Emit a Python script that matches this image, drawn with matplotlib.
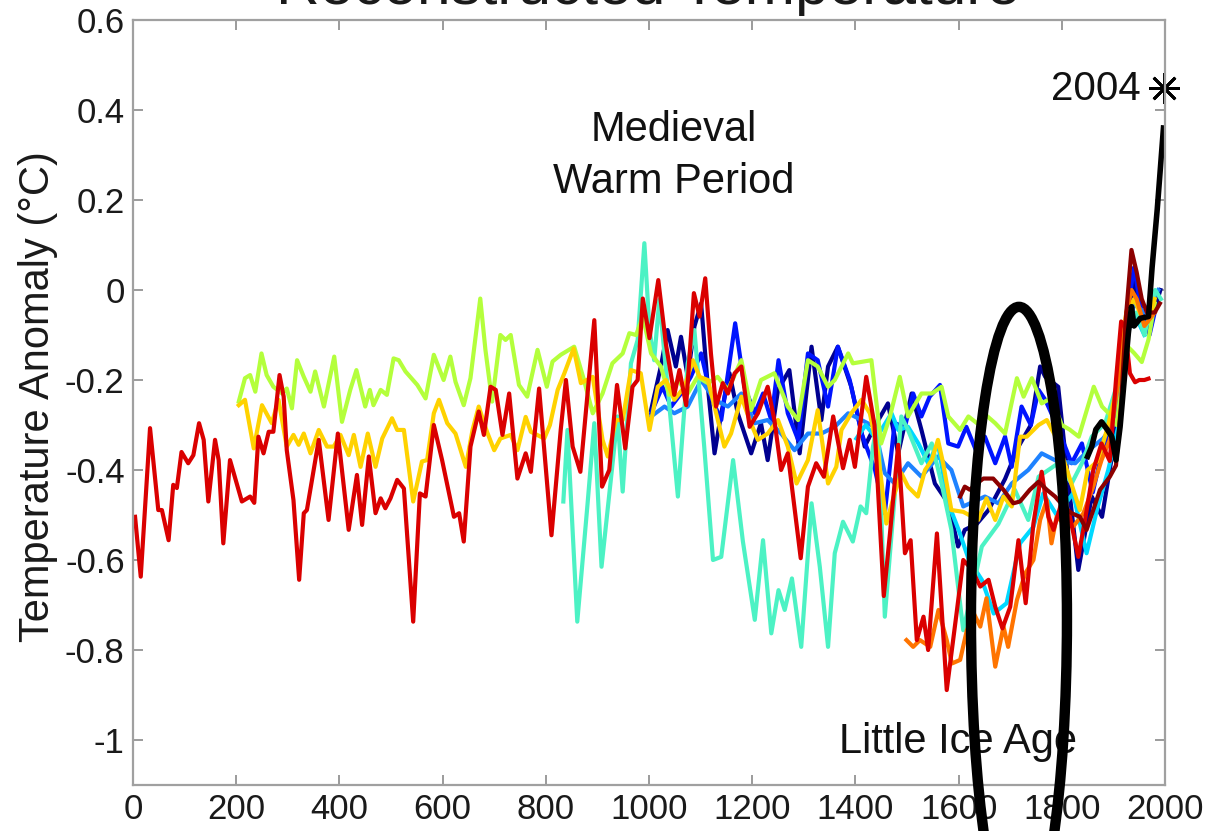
import matplotlib
matplotlib.use("Agg")
import matplotlib.pyplot as plt
from matplotlib.patches import Ellipse

plt.rcParams['font.family'] = ['Liberation Sans', 'DejaVu Sans']
plt.rcParams['axes.unicode_minus'] = False

# --- reconstructions (year, anomaly in deg C) ---
moberg_yr = [4, 15, 33, 49, 56, 69, 78, 85, 94, 107, 117, 128, 137, 146, 159, 166, 175, 188, 201, 211,
             227, 235, 243, 253, 263, 272, 284, 292, 298, 311, 322, 331, 337, 360, 379, 397, 418, 434, 444, 457,
             470, 480, 489, 499, 512, 525, 543, 556, 567, 583, 599, 622, 632, 641, 654, 670, 680, 693, 703, 716,
             729, 745, 761, 771, 787, 811, 829, 839, 852, 867, 881, 894, 909, 923, 938, 954, 968, 978, 988, 1001,
             1018, 1033, 1049, 1059, 1072, 1087, 1098, 1109, 1120, 1130, 1143, 1153, 1166, 1179, 1195, 1211, 1230, 1243, 1256, 1269,
             1294, 1308, 1324, 1339, 1357, 1376, 1389, 1399, 1421, 1437, 1455, 1467, 1483, 1496, 1507, 1519, 1532, 1541, 1558, 1577,
             1596, 1609, 1625, 1642, 1658, 1671, 1685, 1700, 1716, 1730, 1745, 1761, 1774, 1784, 1800, 1815, 1832, 1845, 1861, 1877,
             1893, 1905, 1915, 1922, 1932, 1942, 1950, 1960, 1968]
moberg_t = [-0.504, -0.637, -0.307, -0.489, -0.489, -0.556, -0.433, -0.44, -0.36, -0.385, -0.367, -0.296, -0.333, -0.47, -0.333, -0.378, -0.563, -0.378, -0.43, -0.47,
            -0.459, -0.473, -0.326, -0.363, -0.315, -0.315, -0.189, -0.237, -0.356, -0.467, -0.644, -0.496, -0.489, -0.333, -0.511, -0.319, -0.533, -0.411, -0.522, -0.37,
            -0.496, -0.463, -0.485, -0.463, -0.422, -0.441, -0.737, -0.452, -0.459, -0.3, -0.378, -0.504, -0.496, -0.559, -0.348, -0.27, -0.322, -0.215, -0.222, -0.322,
            -0.23, -0.419, -0.363, -0.404, -0.219, -0.545, -0.31, -0.2, -0.348, -0.404, -0.23, -0.067, -0.437, -0.4, -0.211, -0.352, -0.215, -0.2, -0.019, -0.107,
            0.022, -0.122, -0.233, -0.178, -0.256, -0.007, -0.059, 0.026, -0.141, -0.259, -0.207, -0.23, -0.185, -0.17, -0.304, -0.274, -0.215, -0.289, -0.4, -0.363,
            -0.596, -0.437, -0.385, -0.415, -0.281, -0.396, -0.333, -0.393, -0.193, -0.3, -0.68, -0.541, -0.344, -0.585, -0.556, -0.778, -0.726, -0.8, -0.541, -0.889,
            -0.719, -0.6, -0.62, -0.659, -0.644, -0.704, -0.752, -0.704, -0.556, -0.696, -0.519, -0.404, -0.504, -0.533, -0.47, -0.5, -0.593, -0.511, -0.4, -0.341,
            -0.38, -0.2, -0.07, -0.08, -0.185, -0.205, -0.2, -0.2, -0.197]

mj2003_yr = [205, 217, 227, 237, 249, 259, 272, 289, 298, 308, 318, 331, 344, 353, 370, 390, 405, 421, 433, 450,
             459, 466, 480, 492, 505, 515, 528, 551, 567, 583, 602, 615, 625, 641, 654, 673, 683, 696, 712, 722,
             732, 748, 764, 784, 802, 813, 829, 855, 874, 891, 910, 929, 949, 962, 975, 988, 1004, 1023, 1039, 1056,
             1075, 1094, 1114, 1133, 1153, 1179, 1198, 1217, 1243, 1269, 1289, 1308, 1327, 1347, 1360, 1386, 1395, 1431, 1450, 1467,
             1486, 1502, 1528, 1548, 1567, 1580, 1603, 1619, 1640, 1655, 1671, 1690, 1713, 1726, 1742, 1761, 1780, 1800, 1815, 1833,
             1862, 1878, 1897, 1906, 1918, 1928, 1940, 1955, 1968, 1980]
mj2003_t = [-0.248, -0.196, -0.189, -0.226, -0.141, -0.189, -0.215, -0.23, -0.219, -0.263, -0.156, -0.193, -0.226, -0.181, -0.259, -0.148, -0.293, -0.222, -0.178, -0.259,
            -0.222, -0.256, -0.222, -0.233, -0.152, -0.156, -0.181, -0.211, -0.241, -0.144, -0.2, -0.148, -0.204, -0.256, -0.196, -0.019, -0.133, -0.248, -0.1, -0.111,
            -0.1, -0.211, -0.237, -0.133, -0.215, -0.159, -0.144, -0.126, -0.2, -0.274, -0.23, -0.163, -0.141, -0.096, -0.1, -0.059, -0.141, -0.17, -0.233, -0.2,
            -0.23, -0.193, -0.207, -0.193, -0.222, -0.156, -0.267, -0.2, -0.185, -0.259, -0.289, -0.156, -0.17, -0.215, -0.2, -0.141, -0.163, -0.156, -0.341, -0.281,
            -0.193, -0.281, -0.23, -0.23, -0.215, -0.281, -0.311, -0.281, -0.3, -0.28, -0.296, -0.319, -0.196, -0.237, -0.196, -0.252, -0.24, -0.3, -0.31, -0.326,
            -0.215, -0.259, -0.281, -0.3, -0.2, -0.126, -0.14, -0.16, -0.11, -0.03]

jm2004_yr = [205, 217, 234, 250, 269, 282, 298, 311, 321, 331, 344, 360, 376, 389, 402, 418, 428, 441, 455, 470,
             483, 502, 512, 525, 543, 560, 570, 583, 593, 609, 625, 645, 658, 670, 686, 700, 712, 732, 745, 761,
             771, 797, 808, 823, 836, 854, 868, 891, 910, 920, 936, 949, 965, 984, 1001, 1017, 1033, 1049, 1069, 1085,
             1098, 1114, 1127, 1146, 1159, 1179, 1195, 1211, 1230, 1250, 1269, 1286, 1308, 1327, 1347, 1363, 1373, 1392, 1412, 1428,
             1444, 1460, 1476, 1489, 1502, 1521, 1535, 1548, 1560, 1570, 1586, 1609, 1638, 1654, 1671, 1687, 1703, 1719, 1732, 1755,
             1771, 1790, 1810, 1835, 1850, 1870, 1890, 1910, 1925, 1940, 1955, 1970, 1980]
jm2004_t = [-0.256, -0.244, -0.352, -0.256, -0.296, -0.244, -0.348, -0.322, -0.344, -0.319, -0.363, -0.311, -0.348, -0.348, -0.322, -0.367, -0.322, -0.393, -0.319, -0.393,
            -0.33, -0.285, -0.311, -0.311, -0.47, -0.381, -0.378, -0.274, -0.244, -0.296, -0.319, -0.393, -0.311, -0.259, -0.315, -0.356, -0.33, -0.322, -0.356, -0.282,
            -0.315, -0.33, -0.3, -0.222, -0.185, -0.13, -0.207, -0.193, -0.333, -0.37, -0.289, -0.289, -0.178, -0.185, -0.311, -0.215, -0.2, -0.244, -0.215, -0.156,
            -0.193, -0.2, -0.259, -0.348, -0.319, -0.237, -0.289, -0.333, -0.319, -0.289, -0.348, -0.43, -0.378, -0.267, -0.43, -0.393, -0.311, -0.274, -0.244, -0.274,
            -0.363, -0.519, -0.452, -0.407, -0.437, -0.459, -0.4, -0.378, -0.333, -0.385, -0.489, -0.493, -0.511, -0.463, -0.511, -0.459, -0.481, -0.326, -0.326, -0.3,
            -0.289, -0.33, -0.4, -0.489, -0.4, -0.38, -0.3, -0.2, -0.05, -0.02, -0.06, -0.06, -0.02]

esper_yr = [834, 842, 861, 881, 894, 908, 926, 939, 949, 965, 978, 991, 1001, 1010, 1020, 1036, 1056, 1075, 1088, 1107,
            1124, 1140, 1163, 1182, 1205, 1221, 1237, 1251, 1263, 1277, 1295, 1315, 1331, 1347, 1360, 1376, 1395, 1410, 1421, 1434,
            1444, 1457, 1476, 1489, 1502, 1528, 1548, 1567, 1586, 1609, 1630, 1645, 1677, 1709, 1735, 1755, 1793, 1819, 1839, 1858,
            1884, 1910, 1930, 1945, 1960, 1981, 1992]
esper_t = [-0.47, -0.311, -0.737, -0.474, -0.296, -0.615, -0.422, -0.281, -0.448, -0.163, -0.111, 0.104, -0.089, -0.156, -0.022, -0.215, -0.459, -0.163, -0.089, -0.348,
           -0.6, -0.593, -0.378, -0.559, -0.733, -0.556, -0.763, -0.667, -0.711, -0.641, -0.793, -0.474, -0.615, -0.793, -0.585, -0.515, -0.559, -0.481, -0.496, -0.348,
           -0.289, -0.726, -0.459, -0.281, -0.311, -0.385, -0.341, -0.43, -0.533, -0.756, -0.65, -0.57, -0.52, -0.444, -0.511, -0.415, -0.385, -0.43, -0.385, -0.326,
           -0.296, -0.2, -0.06, -0.05, -0.1, 0.0, -0.02]

jones_yr = [1004, 1023, 1036, 1052, 1062, 1075, 1088, 1101, 1114, 1127, 1140, 1156, 1172, 1198, 1217, 1230, 1250, 1272, 1292, 1315,
            1334, 1347, 1366, 1392, 1418, 1437, 1463, 1483, 1509, 1528, 1554, 1580, 1599, 1612, 1635, 1658, 1690, 1716, 1740, 1758,
            1768, 1793, 1810, 1832, 1858, 1878, 1900, 1920, 1940, 1955, 1970, 1991]
jones_t = [-0.267, -0.17, -0.089, -0.17, -0.104, -0.193, -0.081, -0.03, -0.215, -0.363, -0.274, -0.185, -0.274, -0.363, -0.296, -0.378, -0.222, -0.178, -0.363, -0.126,
           -0.289, -0.17, -0.126, -0.215, -0.348, -0.304, -0.252, -0.363, -0.23, -0.311, -0.43, -0.474, -0.57, -0.533, -0.52, -0.489, -0.42, -0.348, -0.3, -0.17,
           -0.193, -0.215, -0.4, -0.622, -0.459, -0.504, -0.35, -0.15, 0.02, -0.05, -0.08, 0.0]

mann_yr = [1004, 1026, 1043, 1062, 1081, 1101, 1120, 1140, 1167, 1185, 1205, 1221, 1237, 1251, 1269, 1289, 1308, 1327, 1347, 1366,
           1389, 1412, 1438, 1457, 1476, 1496, 1512, 1528, 1544, 1564, 1580, 1599, 1615, 1635, 1651, 1671, 1690, 1703, 1722, 1740,
           1755, 1768, 1790, 1819, 1839, 1860, 1880, 1900, 1920, 1940, 1955, 1970, 1980]
mann_t = [-0.274, -0.215, -0.259, -0.23, -0.193, -0.141, -0.237, -0.289, -0.074, -0.215, -0.274, -0.23, -0.289, -0.156, -0.274, -0.333, -0.141, -0.156, -0.259, -0.126,
          -0.2, -0.319, -0.4, -0.496, -0.296, -0.304, -0.23, -0.281, -0.237, -0.211, -0.341, -0.348, -0.304, -0.36, -0.326, -0.385, -0.326, -0.393, -0.259, -0.3,
          -0.222, -0.244, -0.3, -0.385, -0.341, -0.45, -0.35, -0.3, -0.1, 0.05, -0.05, -0.1, -0.05]

crowley_yr = [1004, 1030, 1049, 1075, 1101, 1127, 1153, 1179, 1205, 1230, 1256, 1282, 1308, 1334, 1360, 1386, 1412, 1437, 1457, 1476,
              1502, 1528, 1560, 1586, 1609, 1630, 1651, 1677, 1703, 1735, 1761, 1790, 1826, 1852, 1880, 1900, 1920, 1940, 1960, 1987]
crowley_t = [-0.281, -0.259, -0.274, -0.259, -0.2, -0.244, -0.259, -0.23, -0.296, -0.289, -0.319, -0.356, -0.319, -0.319, -0.304, -0.274, -0.289, -0.304, -0.407, -0.43,
             -0.385, -0.415, -0.37, -0.4, -0.481, -0.47, -0.459, -0.474, -0.43, -0.4, -0.363, -0.38, -0.385, -0.356, -0.33, -0.3, -0.15, -0.03, -0.05, 0.0]

briffa_yr = [1402, 1420, 1440, 1470, 1483, 1502, 1522, 1541, 1560, 1580, 1600, 1620, 1645, 1668, 1693, 1719, 1745, 1764, 1790, 1822,
             1848, 1868, 1890, 1910, 1925, 1940, 1960]
briffa_t = [-0.33, -0.3, -0.33, -0.274, -0.311, -0.304, -0.341, -0.385, -0.341, -0.474, -0.533, -0.6, -0.644, -0.719, -0.696, -0.563, -0.526, -0.452, -0.5, -0.452,
            -0.585, -0.489, -0.4, -0.3, -0.1, -0.05, -0.1]

huang_yr = [1499, 1512, 1525, 1545, 1561, 1577, 1587, 1603, 1616, 1630, 1642, 1654, 1671, 1687, 1696, 1713, 1729, 1745, 1758, 1771,
            1780, 1790, 1805, 1822, 1842, 1861, 1877, 1893, 1910, 1925, 1935, 1945, 1960, 1980]
huang_t = [-0.778, -0.793, -0.778, -0.793, -0.711, -0.778, -0.83, -0.822, -0.756, -0.72, -0.748, -0.685, -0.837, -0.748, -0.793, -0.689, -0.63, -0.6, -0.511, -0.467,
           -0.563, -0.504, -0.52, -0.526, -0.496, -0.437, -0.378, -0.333, -0.2, -0.05, 0.0, -0.02, -0.08, -0.05]

oerl_yr = [1603, 1612, 1622, 1635, 1648, 1667, 1687, 1706, 1719, 1738, 1755, 1771, 1787, 1803, 1819, 1835, 1848, 1861, 1874, 1893,
           1905, 1915, 1925, 1935, 1945, 1955, 1965, 1980, 1990]
oerl_t = [-0.459, -0.437, -0.444, -0.43, -0.419, -0.419, -0.444, -0.474, -0.47, -0.444, -0.426, -0.444, -0.459, -0.48, -0.496, -0.504, -0.533, -0.489, -0.444, -0.415,
          -0.39, -0.25, -0.05, 0.089, 0.04, -0.02, -0.05, -0.05, -0.03]

instr_yr = [1850, 1858, 1866, 1877, 1888, 1897, 1905, 1913, 1921, 1929, 1935, 1940, 1952, 1968, 1975, 1985, 1997]
instr_t = [-0.37, -0.348, -0.31, -0.293, -0.31, -0.326, -0.378, -0.304, -0.2, -0.096, -0.037, -0.08, -0.063, -0.059, 0.05, 0.18, 0.36]

series = [
    (jones_yr, jones_t, '#000090'),
    (mann_yr, mann_t, '#0014FF'),
    (crowley_yr, crowley_t, '#1E82FF'),
    (briffa_yr, briffa_t, '#00D8FF'),
    (esper_yr, esper_t, '#4CF2C4'),
    (mj2003_yr, mj2003_t, '#B4FF3C'),
    (jm2004_yr, jm2004_t, '#FFD200'),
    (huang_yr, huang_t, '#FF7400'),
    (moberg_yr, moberg_t, '#DA0000'),
    (oerl_yr, oerl_t, '#8C0000'),
]

yticks = [-1, -0.8, -0.6, -0.4, -0.2, 0, 0.2, 0.4, 0.6]
ytick_labels = ['-1', '-0.8', '-0.6', '-0.4', '-0.2', '0', '0.2', '0.4', '0.6']
xticks = [0, 200, 400, 600, 800, 1000, 1200, 1400, 1600, 1800, 2000]

fig = plt.figure(figsize=(12.05, 8.31), dpi=100)
ax = fig.add_axes([133 / 1205, 1 - 785 / 831, 1032 / 1205, 765 / 831])

for yrs, vals, col in series:
    ax.plot(yrs, vals, color=col, lw=3.0, solid_joinstyle='round')
ax.plot(instr_yr, instr_t, color='black', lw=4.0)

# the "2004" marker
ax.plot([1998], [0.45], marker=(8, 2, 0), color='black', markersize=22, mew=2, clip_on=False)
ax.text(1952, 0.422, '2004', fontsize=29, ha='right', va='baseline', color='#111111')

# two lines, placed by the baseline of the lower one
ax.text(1048, 0.216, 'Medieval\nWarm Period', fontsize=30, ha='center', va='baseline',
        multialignment='center', linespacing=1.38, color='#111111')
ax.text(1599, -1.03, 'Little Ice Age', fontsize=30, ha='center', va='baseline', color='#111111')

ax.set_xlim(0, 2000)
ax.set_ylim(-1.1, 0.6)
ax.set_xticks(xticks)
ax.set_yticks(yticks)
ax.set_yticklabels(ytick_labels)
ax.tick_params(direction='in', length=7, width=1.2, color='#8a8a8a', labelsize=25,
               labelcolor='#1a1a1a', top=True, right=True, pad=6)
for s in ax.spines.values():
    s.set_color('#a0a0a0')
    s.set_linewidth(1.6)

fig.text(38 / 1205, 1 - 397 / 831, 'Temperature Anomaly (°C)', rotation=90, fontsize=30,
         ha='center', va='center', color='#1a1a1a')
# title sits mostly above the top edge, as in the cropped original
fig.text(648 / 1205, 1 - 4 / 831, 'Reconstructed Temperature', fontsize=43.5,
         ha='center', va='baseline', color='#1a1a1a')

# hand-drawn circle around the Little Ice Age
ell = Ellipse((1717, -0.733), width=186, height=1.391, fill=False, ec='black', lw=7.5,
              clip_on=False, zorder=10)
ax.add_patch(ell)

fig.savefig('out.png', dpi=100)
